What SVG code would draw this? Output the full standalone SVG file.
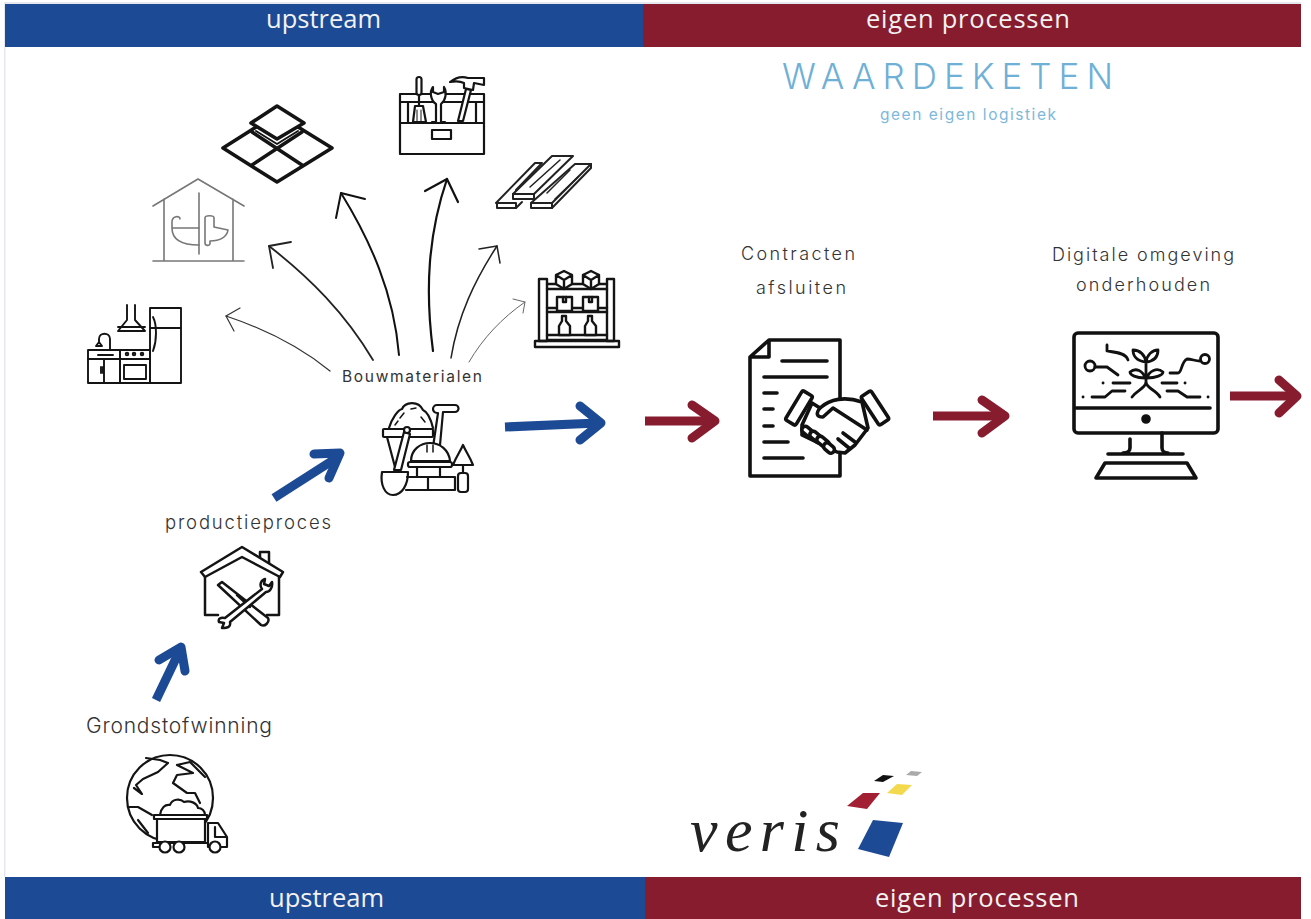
<svg xmlns="http://www.w3.org/2000/svg" width="1311" height="919" viewBox="0 0 1311 919">
<style>
.bar{font-family:"Open Sans","Noto Sans",sans-serif;font-size:25.5px;fill:#f2f2f2}
.lb{font-family:Inter,"Open Sans",sans-serif;font-weight:300;fill:#333;stroke:none}
.ic{fill:none;stroke:#141414;stroke-width:2.2;stroke-linecap:round;stroke-linejoin:round}
.th{stroke-width:3.6}
.wf{fill:#fff}
.bl{fill:none;stroke:#1d4a94;stroke-width:9;stroke-linejoin:round}
.rd{fill:none;stroke:#861c2e;stroke-width:9;stroke-linejoin:round}
.hd{stroke-linecap:round}
.cv{fill:none;stroke-linecap:round;stroke-linejoin:round}
.edge{fill:#e6e8ef}
</style>
<rect width="1311" height="919" fill="#fff"/>
<rect class="edge" x="4" y="2" width="1297" height="2"/>
<rect class="edge" x="4" y="2" width="1.500" height="875"/>
<g id="banner-top">
<rect x="5" y="4" width="638" height="43" fill="#1d4a94"/>
<rect x="643" y="4" width="658" height="43" fill="#861c2e"/>
<text class="bar" x="266" y="28" textLength="115">upstream</text>
<text class="bar" x="866" y="28" textLength="204">eigen processen</text>
</g>
<g id="banner-bottom">
<rect x="5" y="877" width="640" height="42" fill="#1d4a94"/>
<rect x="645" y="877" width="656" height="42" fill="#861c2e"/>
<text class="bar" x="269" y="907" textLength="115">upstream</text>
<text class="bar" x="875" y="907" textLength="204">eigen processen</text>
</g>
<g id="title">
<text x="782" y="89" textLength="331" style="font-family:Inter,sans-serif;font-weight:300;font-size:35px;fill:#6fb0d6">WAARDEKETEN</text>
<text x="880" y="120" textLength="176" style="font-family:Inter,sans-serif;font-weight:400;font-size:15.500px;fill:#7db8da">geen eigen logistiek</text>
</g>

<g id="connectors">
<g class="cv">
<g stroke="#333" stroke-width="1.2"><path d="M330,371C298,345 265,329 226,316"/><path d="M240,308L226,316L234,331"/></g>
<g stroke="#222" stroke-width="1.8"><path d="M373,360C345,313 310,278 269,246"/><path d="M291,242L269,246L273,268"/></g>
<g stroke="#111" stroke-width="2"><path d="M399,355C394,293 370,240 341,193"/><path d="M365,199L341,193L336,218"/></g>
<g stroke="#111" stroke-width="2.2"><path d="M433,351C425,290 428,235 447,179"/><path d="M425,191L447,179L458,202"/></g>
<g stroke="#222" stroke-width="1.5"><path d="M451,358C458,315 475,280 497,246"/><path d="M479,249L497,246L500,263"/></g>
<g stroke="#666" stroke-width="1"><path d="M469,362C483,338 502,318 525,302"/><path d="M513,299L525,302L523,313"/></g>
</g>
<g class="bl">
<path d="M505,427L598,423"/><path class="hd" d="M580,406L601,423L580,440"/>
<path d="M274,498L338,457"/><path class="hd" d="M314,454L340,453L329,478"/>
<path d="M156,700L179,652"/><path class="hd" d="M159,660L181,647L185,671"/>
</g>
<g class="rd">
<path d="M645,421L712,421"/><path class="hd" d="M692,405L715,421L692,438"/>
<path d="M933,416L1002,416"/><path class="hd" d="M982,400L1005,416L982,433"/>
<path d="M1230,396L1294,396"/><path class="hd" d="M1279,380L1297,396L1279,413"/>
</g>
</g>

<g id="node-kitchen" class="ic" style="stroke-width:1.900">
<rect x="150" y="308" width="31" height="75"/>
<path d="M150,328H181M153,317C157,325 157,340 153,351"/>
<path d="M127,305V320L118,331H145L135,320V305M118,327H145"/>
<rect x="88" y="350" width="32" height="33"/>
<rect x="120" y="350" width="30" height="33"/>
<path d="M88,359H150M104,359V383M98,355H113M101,367V373M103,367V373"/>
<rect x="124" y="365" width="22" height="14"/>
<circle cx="127" cy="354" r="1.300"/><circle cx="134" cy="354" r="1.300"/><circle cx="142" cy="354" r="1.300"/>
<path d="M110,349V339C110,332 99,332 99,339V342M96,346H102L99,342Z"/>
</g>
<g id="node-bath" class="ic" style="stroke:#777;stroke-width:1.600">
<path d="M153,206L198,179L244,206M164,199V261M233,199V261M153,261H244M199,193V254"/>
<path d="M172,228H199M172,228C172,238 180,245 199,245M172,228V222C172,216 180,215 180,219"/>
<path d="M214,227V218C214,215 205,215 205,218V243C205,246 209,246 210,244V241C220,241 227,237 228,230L214,227"/>
</g>
<g id="node-tiles" class="ic" style="stroke-width:3.600">
<path class="wf" d="M277,114L332,148L277,182L223,148Z"/>
<path d="M252,132L302,165M302,132L252,165"/>
<path class="wf" d="M277,106L304,123L277,139L251,123Z"/>
<path d="M256,131L277,144L298,131" style="stroke-width:2"/>
</g>
<g id="node-toolbox" class="ic">
<path d="M400,94H484V154H400ZM400,123H484M400,102H484M408,102V123M476,102V123"/>
<rect x="432" y="130" width="19" height="9"/>
<rect class="wf" x="416.500" y="77" width="5" height="18" rx="2.500"/>
<path d="M419,95V106"/>
<path class="wf" d="M415,106H423L426,122H413Z"/><path d="M417,110V121M421,110V121" style="stroke-width:1"/>
<path class="wf" d="M441,122L441,104C446,100 447,92 444,87V92L438,94L433,92V87C429,92 431,101 436,104V122H432M445,122H441"/>
<path class="wf" d="M458,121L466,89L471,90L463,121Z"/>
<path class="wf" d="M450,82C455,78 462,76 468,78L484,78V85L474,83L473,90L464,88L464,83C460,81 455,81 450,82Z"/>
</g>
<g id="node-planks" class="ic" style="stroke-width:2;stroke:#222">
<path d="M496,203L535,163H542L516,190"/>
<path class="wf" d="M531,203L575,164H591L552,203Z"/>
<path class="wf" d="M513,194L552,156H573L534,194Z"/>
<path d="M530,187L560,160M547,193L570,170M555,199L578,177" style="stroke-width:1.500"/>
<rect x="497" y="203" width="19" height="5"/><rect x="531" y="203" width="21" height="5"/><rect x="513" y="194" width="21" height="5"/>
<path d="M516,208L522,202M552,208L591,168V164"/>
</g>
<g id="node-shelf" class="ic" style="stroke-width:2.400">
<rect x="539" y="279" width="8" height="62"/><rect x="607" y="279" width="7" height="62"/>
<rect x="535" y="341" width="84" height="6"/>
<path d="M547,284H607M547,289H607M547,308H607M547,312H607M547,335H607M547,340H607"/>
<path class="wf" d="M564,271L572,275V284L564,289L556,284V275ZM556,275L564,280L572,275M564,280V289"/>
<path class="wf" d="M591,271L599,275V284L591,289L583,284V275ZM583,275L591,280L599,275M591,280V289"/>
<rect class="wf" x="557" y="297" width="15" height="14"/><rect class="wf" x="583" y="297" width="15" height="14"/>
<path d="M563,297V302H566V297M589,297V302H592V297"/>
<path class="wf" d="M562,316H566V321L570,326V335H559V326L562,321Z"/>
<path class="wf" d="M588,316H592V321L596,326V335H585V326L588,321Z"/>
</g>
<g id="node-materials" class="ic">
<text class="lb" x="342" y="382" textLength="140" style="font-size:15.500px;font-weight:400">Bouwmaterialen</text>
<path d="M389,428C392,418 398,410 402,409C405,402 418,400 423,410C428,412 431,420 433,428"/>
<path d="M400,418L404,413M411,409L416,408M421,417L425,422M395,425L398,421" style="stroke-width:1.500"/>
<rect x="383" y="429" width="50" height="8" rx="1"/>
<path d="M387,437L395,467"/>
<path class="wf" d="M404,432L410,434L401,470L394,470Z"/><circle class="wf" cx="407" cy="430" r="3"/>
<path class="wf" d="M382,472H408C408,485 402,495 393,495C385,495 380,485 382,472Z"/>
<path d="M433,447L438,413H437A3.500,3.500 0 0 1 437,405H455A3.500,3.500 0 0 1 455,412H443L440,445"/>
<path class="wf" d="M411,461C411,450 420,443 430,443C440,443 449,450 450,461Z"/>
<path d="M427,445V452M433,445V452" style="stroke-width:1.500"/>
<rect class="wf" x="408" y="462" width="44" height="5" rx="2"/>
<path d="M417,467V477H440V467"/><path d="M407,477H455V490H406M428,477V490"/>
<path class="wf" d="M463,445C466,452 470,457 473,465H453C456,457 460,452 463,445Z"/>
<path d="M463,465V473"/><rect x="458" y="473" width="10" height="19" rx="3"/>
</g>
<g id="node-house" class="ic" style="stroke-width:2.500">
<path d="M260,558V552H269V565"/>
<path class="wf" d="M201,572L242,547L283,572L280,577L242,557L205,577Z"/>
<path d="M205,577V615H218M279,577V615H267"/>
<path class="wf" d="M218,585L222,582L268,618C270,622 265,627 261,625Z"/>
<path d="M237,595L250,607"/>
<path class="wf" d="M225,618L262,589C259,585 261,580 265,579L264,584L269,586L272,582C273,587 270,592 266,592L230,622C231,627 228,628 222,628L224,623L219,622C218,619 220,617 225,618Z"/>
</g>
<g id="node-earth" class="ic">
<circle cx="170" cy="798" r="43"/>
<path d="M146,758L160,760L168,763L158,772L143,779L136,785L142,794L134,788"/>
<path d="M177,765L190,762L205,777M177,765L193,773L177,775L173,783L187,793H195L200,803"/>
<path d="M128,807H138L152,815M138,820L148,833"/>
<path class="wf" d="M160,815C161,808 165,804 170,805C172,799 180,798 184,802C190,800 197,803 198,808C202,808 205,811 205,815Z"/>
<rect class="wf" x="154" y="815" width="53" height="4"/>
<rect class="wf" x="157" y="819" width="48" height="23"/>
<path class="wf" d="M208,823H218L227,837V847H208ZM215,827V837H227"/>
<path d="M153,843H207M153,843V847H160"/>
<circle class="wf" cx="165" cy="847" r="5.500"/><circle class="wf" cx="179" cy="847" r="5.500"/><circle class="wf" cx="215" cy="847" r="5.500"/>
</g>
<g id="node-contract" class="ic th" style="stroke:#111">
<text class="lb" x="741" y="260" textLength="114" style="font-size:18px">Contracten</text>
<text class="lb" x="756" y="294" textLength="90" style="font-size:18px">afsluiten</text>
<path d="M769,340H840V476H750V357ZM769,340V357H750"/>
<path d="M782,361H827M764,377H827M764,393H777M764,409H773M764,426H773M764,442H788M764,458H803"/>
<rect class="wf" x="-6" y="-17" width="12" height="34" rx="2" transform="translate(799,408) rotate(31)"/>
<rect class="wf" x="-6" y="-17" width="12" height="34" rx="2" transform="translate(875,408) rotate(-33)"/>
<path class="wf" d="M812,403L820,408C830,399 845,396 862,402L868,428L855,445L845,453L837,452L802,435V425Z"/>
<path d="M820,408C816,413 816,417 823,417L833,408L867,430M843,433L855,442M838,439L849,448"/>
<g class="wf">
<rect x="-3.500" y="-7" width="7" height="14" rx="3.500" transform="translate(808,432) rotate(-50)"/>
<rect x="-3.500" y="-7" width="7" height="14" rx="3.500" transform="translate(816,437) rotate(-50)"/>
<rect x="-3.500" y="-7" width="7" height="14" rx="3.500" transform="translate(823,442) rotate(-50)"/>
<rect x="-3.500" y="-6" width="7" height="12" rx="3.500" transform="translate(829,448) rotate(-50)"/>
</g>
</g>
<g id="node-digital" class="ic th" style="stroke:#111">
<text class="lb" x="1052" y="261" textLength="182" style="font-size:18px">Digitale omgeving</text>
<text class="lb" x="1076" y="291" textLength="134" style="font-size:18px">onderhouden</text>
<rect x="1074" y="333" width="144" height="100" rx="4"/>
<path d="M1076,408H1210"/>
<circle cx="1146" cy="419" r="3" style="fill:#111"/>
<path d="M1130,439V448C1130,451 1127,453 1123,453M1162,433V448C1162,451 1165,453 1168,453M1108,454H1183"/>
<path d="M1096,478L1105,463H1187L1196,478Z"/>
<g style="stroke-width:2.800">
<path d="M1107,345V351C1112,352 1126,352 1128,360"/>
<path d="M1095,367H1107L1118,375"/>
<circle cx="1090" cy="366" r="5"/><circle cx="1205" cy="359" r="4.500"/>
<path d="M1200,361C1195,361 1192,359 1187,359C1181,362 1182,373 1178,373H1170"/>
<path d="M1146,362V383M1146,362C1136,361 1133,355 1133,350C1140,350 1145,355 1146,362ZM1146,362C1156,361 1158,355 1158,350C1152,350 1147,355 1146,362ZM1145,378C1136,378 1130,375 1130,372C1136,367 1143,371 1145,378ZM1147,378C1156,378 1163,375 1163,372C1157,367 1149,371 1147,378Z"/>
<path d="M1146,383C1144,389 1137,390 1132,397M1146,383C1148,389 1156,390 1160,397"/>
<path d="M1113,383H1130M1162,383H1177M1092,397H1105L1112,391H1125M1167,391H1178L1187,397H1200M1083,397H1083.100M1208,397H1208.100M1103,383H1103.100M1185,383H1185.100"/>
</g>
</g>
<g id="node-productieproces"><text class="lb" x="165" y="529" textLength="166" style="font-size:18.500px">productieproces</text></g>
<g id="node-grondstofwinning"><text class="lb" x="86" y="733" textLength="186" style="font-size:21px">Grondstofwinning</text></g>
<g id="logo">
<text x="690" y="851" textLength="150" style="font-family:'Liberation Serif',serif;font-style:italic;font-size:62px;fill:#222">veris</text>
<polygon points="873,820 903,823 889,857 858,849" fill="#1d4a94"/>
<polygon points="863,793 880,793 867,809 847,806" fill="#a31f33"/>
<polygon points="897,784 912,785 902,795 887,793" fill="#f2d94e"/>
<polygon points="883,775 894,776 883,782 874,781" fill="#111"/>
<polygon points="911,771 922,772 917,776 906,775" fill="#aaa"/>
</g>
</svg>
